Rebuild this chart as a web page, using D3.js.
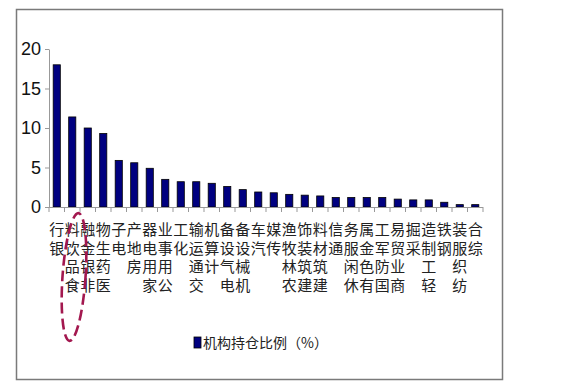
<!DOCTYPE html>
<html><head><meta charset="utf-8">
<script src="https://cdn.jsdelivr.net/npm/d3@7"></script>
<style>html,body{margin:0;padding:0;background:#fff;}</style>
</head><body>
<svg id="c" width="567" height="392"></svg>
<script>
const categories = ["银行","食品饮料","非银金融","医药生物","电子","房地产","家用电器","公用事业","化工","交通运输","计算机","电气设备","机械设备","汽车","传媒","农林牧渔","建筑装饰","建筑材料","通信","休闲服务","有色金属","国防军工","商业贸易","采掘","轻工制造","钢铁","纺织服装","综合"];
const values = [18.0,11.4,10.0,9.3,5.9,5.6,4.9,3.5,3.2,3.2,3.0,2.6,2.2,1.9,1.8,1.6,1.5,1.4,1.2,1.2,1.2,1.2,1.0,0.9,0.9,0.6,0.3,0.3];
const yTicks = [0,5,10,15,20];
const seriesName = "机构持仓比例（%）";

const svg = d3.select("#c");
svg.append("rect").attr("x",16.5).attr("y",9.5).attr("width",486).attr("height",370)
  .attr("fill","#fff").attr("stroke","#7a7a7a").attr("stroke-width",1.5);

const x = d3.scaleBand().domain(categories).range([49,483]).paddingInner(0.54).paddingOuter(0.27);
const y = d3.scaleLinear().domain([0,20]).range([207,49]);

svg.append("g").selectAll("rect").data(values).join("rect")
  .attr("x",(d,i)=>x(categories[i]))
  .attr("y",d=>y(d))
  .attr("width",x.bandwidth())
  .attr("height",d=>y(0)-y(d))
  .attr("fill","#000080").attr("stroke","#000").attr("stroke-width",0.8);

const ya = svg.append("g").attr("transform","translate(49,0)")
  .call(d3.axisLeft(y).tickValues(yTicks).tickSize(4).tickSizeOuter(0).tickPadding(4));
ya.select(".domain").attr("stroke","#999");
ya.selectAll(".tick line").attr("stroke","#999");
ya.selectAll(".tick text").attr("font-family","'Liberation Sans Narrow','Liberation Sans',Arial,sans-serif")
  .attr("font-size",18).attr("fill","#111");

const x0 = x.range()[0];
svg.append("line").attr("x1",49).attr("x2",483).attr("y1",207.5).attr("y2",207.5).attr("stroke","#999");
const bounds = d3.range(categories.length+1).map(i=>x0 + i*(483-49)/categories.length);
svg.append("g").selectAll("line").data(bounds).join("line")
  .attr("x1",d=>d).attr("x2",d=>d).attr("y1",207).attr("y2",212).attr("stroke","#999");

// vertical labels (upright chars, reading bottom-to-top)
const pitch = 18.5, topY = 222;
const lab = svg.append("g").attr("font-family","'Liberation Serif','Noto Sans CJK SC',serif")
  .attr("font-size",15).attr("fill","#222");
categories.forEach((c,i)=>{
  const cx = x(c)+x.bandwidth()/2;
  const chars = Array.from(c);
  const n = chars.length;
  const t = lab.append("text").attr("text-anchor","middle");
  chars.forEach((ch,j)=>{
    const k = n-1-j;
    t.append("tspan").attr("x",cx).attr("y",topY + k*pitch + 13).text(ch);
  });
});

svg.append("rect").attr("x",194).attr("y",337).attr("width",7).attr("height",11)
  .attr("fill","#000080").attr("stroke","#000").attr("stroke-width",0.8);
svg.append("text").attr("x",203).attr("y",348).attr("font-family","'Noto Sans CJK SC',sans-serif")
  .attr("font-size",14).attr("fill","#222").text(seriesName);

svg.append("ellipse").attr("cx",74).attr("cy",277).attr("rx",11.5).attr("ry",64)
  .attr("transform","rotate(4,74,277)")
  .attr("fill","none").attr("stroke","#a3184f").attr("stroke-width",2.6).attr("stroke-dasharray","11,5");
</script>
</body></html>
